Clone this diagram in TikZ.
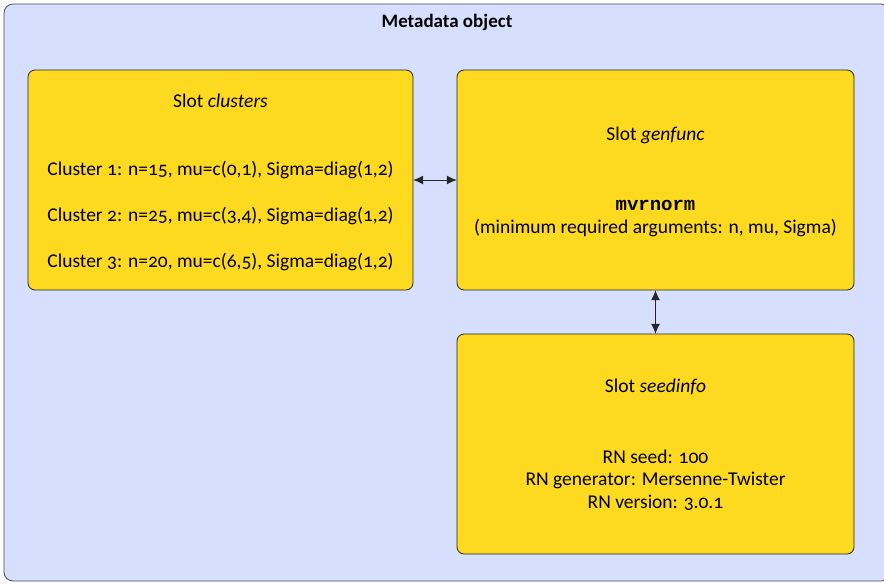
\documentclass[tikz,border=0pt]{standalone}
\usepackage{fontspec}
\setmainfont{Carlito}[Numbers=OldStyle]
\setmonofont{Liberation Mono}
\usetikzlibrary{arrows.meta}
\definecolor{bgblue}{HTML}{D6DFFD}
\definecolor{slotyellow}{HTML}{FDD91F}
\begin{document}
\begin{tikzpicture}[x=1pt,y=-1pt,
  slotbox/.style={draw=black!85, fill=slotyellow, rounded corners=7pt, line width=0.8pt},
  txt/.style={inner sep=0pt, font=\fontsize{19.5}{23}\selectfont, align=center},
  link/.style={{Latex[length=10pt,width=9pt]}-{Latex[length=10pt,width=9pt]}, line width=1pt, draw=black!85}]
\useasboundingbox (0,0) rectangle (884,584);
\draw[fill=bgblue, draw=black!70, rounded corners=9pt, line width=0.8pt] (4,4) rectangle (890,581);
\node[txt, font=\fontsize{19}{23}\selectfont\bfseries] (title) at (447,22) {Metadata object};
\node (clusters) at (220.5,180) [minimum width=385pt, minimum height=220pt] {};
\node (genfunc) at (655.5,180) [minimum width=397pt, minimum height=220pt] {};
\node (seedinfo) at (655.5,444) [minimum width=397pt, minimum height=220pt] {};
\draw[slotbox] (28,70) rectangle (413,290);
\draw[slotbox] (457,70) rectangle (854,290);
\draw[slotbox] (457,334) rectangle (854,554);
\node[txt] (ct) at (220.5,101) {Slot \emph{clusters}};
\node[txt] (c1) at (220.5,170) {Cluster 1: n=15, mu=c(0,1), Sigma=diag(1,2)};
\node[txt] (c2) at (220.5,216) {Cluster 2: n=25, mu=c(3,4), Sigma=diag(1,2)};
\node[txt] (c3) at (220.5,262) {Cluster 3: n=20, mu=c(6,5), Sigma=diag(1,2)};
\node[txt] (gt) at (655.5,135) {Slot \emph{genfunc}};
\node[txt, font=\fontsize{19}{23}\ttfamily\bfseries] (gf) at (655.5,205) {mvrnorm};
\node[txt] (ga) at (655.5,228) {(minimum required arguments: n, mu, Sigma)};
\node[txt] (st) at (655.5,387) {Slot \emph{seedinfo}};
\node[txt] (s1) at (655.5,457) {RN seed: 100};
\node[txt] (s2) at (655.5,480) {RN generator: Mersenne-Twister};
\node[txt] (s3) at (655.5,503) {RN version: 3.0.1};
\draw[link] (clusters.east) -- (genfunc.west);
\draw[link] (genfunc.south) -- (seedinfo.north);
\end{tikzpicture}
\end{document}
